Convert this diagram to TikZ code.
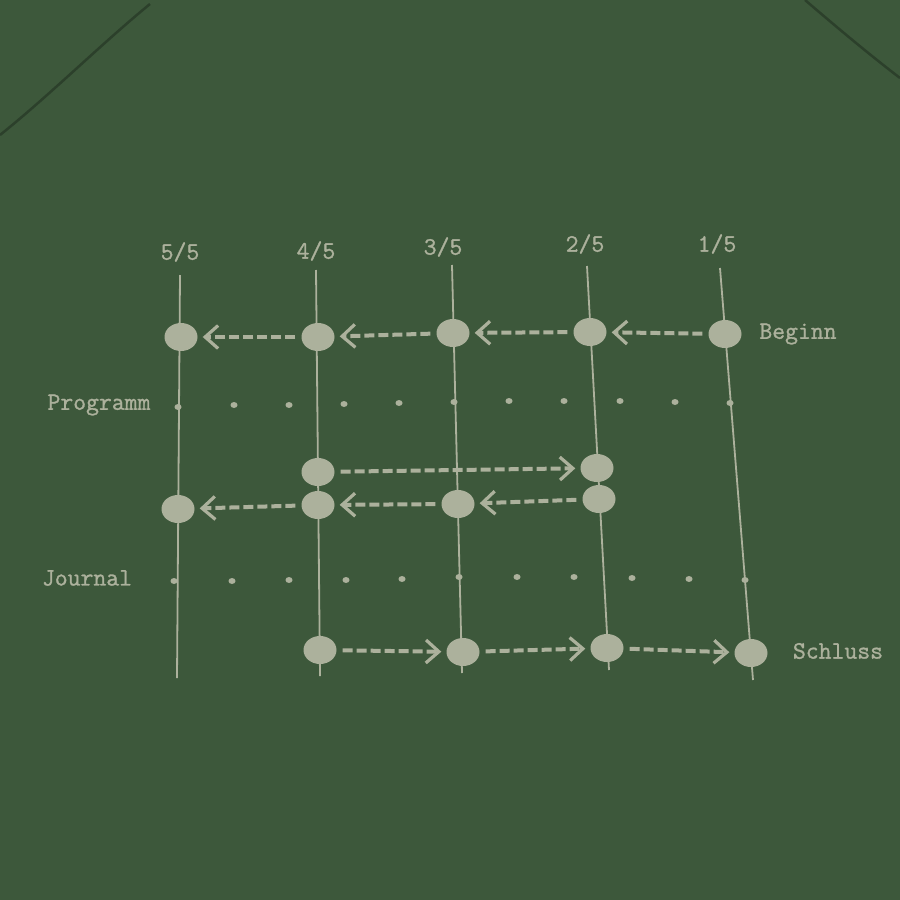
\documentclass[tikz,border=0pt]{standalone}
\usepackage{fontspec}
\setmonofont[FakeBold=1.2]{Latin Modern Mono}
\usetikzlibrary{arrows.meta,shapes.geometric}
\definecolor{shirt}{RGB}{61,88,59}
\definecolor{seam}{RGB}{44,64,43}
\definecolor{ink}{RGB}{172,177,156}
\tikzset{
  vline/.style={draw=ink, line width=1.8pt},
  stop/.style={ellipse, fill=ink, minimum width=33pt, minimum height=28pt, inner sep=0pt},
  dotmark/.style={ellipse, fill=ink, minimum width=7pt, minimum height=6pt, inner sep=0pt},
  lbl/.style={text=ink, font=\fontsize{25}{25}\selectfont\ttfamily, inner sep=0pt},
  flow/.style={draw=ink, line width=4pt, dash pattern=on 10pt off 4pt,
    -{Straight Barb[length=13pt,width=23pt,line width=3.2pt]},
    shorten >=5pt, shorten <=6pt},
  seamline/.style={draw=seam, line width=2.5pt}
}
\begin{document}
\begin{tikzpicture}[x=1pt,y=-1pt]
\fill[shirt] (0,0) rectangle (900,900);
\useasboundingbox (0,0) rectangle (900,900);
% seams
\draw[seamline] (0,135) .. controls (50,95) and (100,45) .. (150,4);
\draw[seamline] (805,0) .. controls (840,30) and (870,55) .. (900,78);
% column ends
\coordinate (t5) at (180,275); \coordinate (b5) at (177,678);
\coordinate (t4) at (316,270); \coordinate (b4) at (320,676);
\coordinate (t3) at (452,265); \coordinate (b3) at (462,673);
\coordinate (t2) at (587,266); \coordinate (b2) at (609,670);
\coordinate (t1) at (720,268); \coordinate (b1) at (753,680);
\draw[vline] (t5) -- (b5);
\draw[vline] (t4) -- (b4);
\draw[vline] (t3) -- (b3);
\draw[vline] (t2) -- (b2);
\draw[vline] (t1) -- (b1);
% column labels
\node[lbl] (l5) at (180,252) {5/5};
\node[lbl] (l4) at (316,251) {4/5};
\node[lbl] (l3) at (443,247) {3/5};
\node[lbl] (l2) at (585,244) {2/5};
\node[lbl] (l1) at (717,244) {1/5};
% row labels
\node[lbl] (beg) at (798,334) {Beginn};
\node[lbl] (prog) at (99,405) {Programm};
\node[lbl] (jour) at (87,578) {Journal};
\node[lbl] (schl) at (838,651) {Schluss};
% dotted rows
\foreach \x/\y [count=\i] in {178/407,234/405,289/405,344/404,399/403,454/402,509/401,564/401,620/401,675/402,730/403}
  \node[dotmark] (p\i) at (\x,\y) {};
\foreach \x/\y [count=\i] in {174/581,232/581,289/580,346/580,402/579,459/577,517/577,574/577,632/578,689/579,745/580}
  \node[dotmark] (j\i) at (\x,\y) {};
% stops
\node[stop] (a5) at (181,337) {};
\node[stop] (a4) at (318,337) {};
\node[stop] (a3) at (453,333) {};
\node[stop] (a2) at (590,332) {};
\node[stop] (a1) at (725,334) {};
\node[stop] (r4) at (318,472) {};
\node[stop] (r2) at (597,468) {};
\node[stop] (s5) at (178,509) {};
\node[stop] (s4) at (318,505) {};
\node[stop] (s3) at (458,504) {};
\node[stop] (s2) at (599,499) {};
\node[stop] (e4) at (320,650) {};
\node[stop] (e3) at (463,652) {};
\node[stop] (e2) at (607,648) {};
\node[stop] (e1) at (751,653) {};
% flows
\draw[flow] (a1) -- (a2);
\draw[flow] (a2) -- (a3);
\draw[flow] (a3) -- (a4);
\draw[flow] (a4) -- (a5);
\draw[flow] (r4) -- (r2);
\draw[flow] (s2) -- (s3);
\draw[flow] (s3) -- (s4);
\draw[flow] (s4) -- (s5);
\draw[flow] (e4) -- (e3);
\draw[flow] (e3) -- (e2);
\draw[flow] (e2) -- (e1);
\end{tikzpicture}
\end{document}
